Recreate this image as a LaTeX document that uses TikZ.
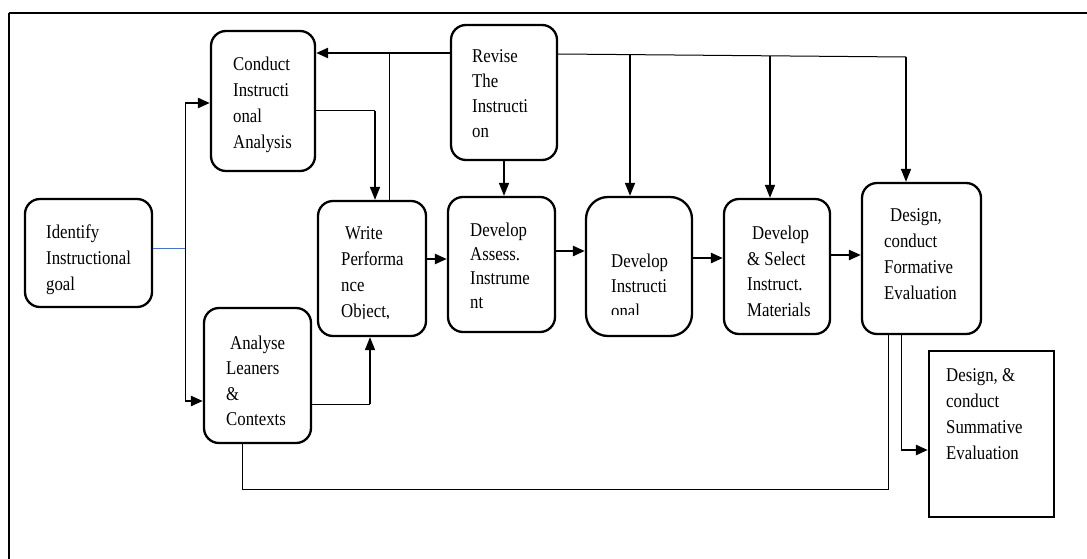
\documentclass[tikz,border=0pt]{standalone}
\usepackage{fontspec}
\setmainfont{Liberation Serif}[FakeStretch=0.86]
\usetikzlibrary{arrows.meta}
\definecolor{goalblue}{RGB}{68,114,196}
\begin{document}
\begin{tikzpicture}[x=1pt,y=-1pt,
  box/.style={draw, line width=2.3pt, rounded corners=15pt, inner sep=0pt},
  txt/.style={anchor=north west, inner sep=0pt, align=left, font=\fontsize{19.5}{#1}\selectfont},
  txt/.default=26,
  thinln/.style={line width=1pt},
  arr/.style={line width=2.5pt, -{Triangle[length=12pt,width=10pt]}},
  varr/.style={line width=1.6pt, -{Triangle[length=13pt,width=10pt]}}]

\useasboundingbox (0,0) rectangle (1087,559);

% frame
\draw[line width=2.5pt] (9,13) -- (1087,13);
\draw[line width=1.3pt] (9,13) -- (9,559);

% boxes
\node[box, minimum width=127pt, minimum height=108pt] (idg) at (88.5,253) {};
\node[box, minimum width=104pt, minimum height=140pt] (cia) at (263,101) {};
\node[box, minimum width=107pt, minimum height=135pt] (alc) at (257.5,375.5) {};
\node[box, minimum width=108pt, minimum height=135pt] (wpo) at (372,268.5) {};
\node[box, minimum width=106pt, minimum height=135pt] (rev) at (504,92.5) {};
\node[box, minimum width=107pt, minimum height=135pt] (dai) at (501.5,264.5) {};
\node[box, rounded corners=22pt, minimum width=106pt, minimum height=139pt] (dim) at (639,266.5) {};
\node[box, minimum width=106pt, minimum height=135pt] (dsm) at (777,266.5) {};
\node[box, minimum width=119pt, minimum height=151pt] (dfe) at (921.5,258.5) {};
\node[box, rounded corners=0pt, minimum width=125pt, minimum height=166pt] (dse) at (991.5,434) {};

% texts
\node[txt] (tidg) at (46,224.7) {Identify\\Instructional\\goal};
\node[txt] (tcia) at (233,56.7) {Conduct\\Instructi\\onal\\Analysis};
\node[txt=25] (trev) at (472,49.7) {Revise\\The\\Instructi\\on};
\begin{scope}
  \clip (330,210) rectangle (420,318);
  \node[txt] (twpo) at (341,226.7) {\hspace*{4pt}Write\\Performa\\nce\\Object,};
\end{scope}
\node[txt=24] (tdai) at (470,222.7) {Develop\\Assess.\\Instrume\\nt};
\begin{scope}
  \clip (600,240) rectangle (690,314);
  \node[txt=25] (tdim) at (611,253.7) {Develop\\Instructi\\onal};
\end{scope}
\node[txt=25.7] (tdsm) at (747,225.7) {\hspace*{5pt}Develop\\\&~Select\\Instruct.\\Materials};
\node[txt] (tdfe) at (884,208.7) {\hspace*{6pt}Design,\\conduct\\Formative\\Evaluation};
\node[txt=25.3] (talc) at (226,335.7) {\hspace*{4pt}Analyse\\Leaners\\\&\\Contexts};
\node[txt] (tdse) at (946,368.7) {Design, \&\\conduct\\Summative\\Evaluation};

% goal split
\coordinate (jtop) at (185,103);
\coordinate (jmid) at (185,248);
\coordinate (jbot) at (185,401);
\draw[line width=1pt, goalblue] (jmid -| idg.east) -- (jmid);
\draw[thinln] (jtop) -- (jbot);
\draw[arr] (jtop) -- (jtop -| cia.west);
\draw[arr] (jbot) -- (jbot -| alc.west);

% conduct -> write
\coordinate (c1) at (375,111);
\draw[thinln] (c1 -| cia.east) -- (c1);
\draw[varr] (c1) -- (c1 |- wpo.north);

% revise -> conduct
\coordinate (r1) at (451,53);
\draw[arr] (r1 -| rev.west) -- (r1 -| cia.east);
\coordinate (v1) at (389,53);
\draw[thinln] (v1) -- (v1 |- wpo.north);

% revise -> develop assess
\draw[varr] (rev.south) -- (rev.south |- dai.north);

% revise -> right branches
\coordinate (b0) at (557,54);
\coordinate (b1) at (630,55);
\coordinate (b2) at (770,56);
\coordinate (b3) at (906,57);
\draw[thinln] (b0 -| rev.east) -- (b3);
\draw[varr] (b1) -- (b1 |- dim.north);
\draw[varr] (b2) -- (b2 |- dsm.north);
\draw[varr] (b3) -- (b3 |- dfe.north);

% chain
\coordinate (h1) at (437,259);
\coordinate (h2) at (570,251);
\coordinate (h3) at (708,258);
\coordinate (h4) at (846,255);
\draw[arr] (h1 -| wpo.east) -- (h1 -| dai.west);
\draw[arr] (h2 -| dai.east) -- (h2 -| dim.west);
\draw[arr] (h3 -| dim.east) -- (h3 -| dsm.west);
\draw[arr] (h4 -| dsm.east) -- (h4 -| dfe.west);

% analyse -> write
\coordinate (a1) at (370,404);
\draw[thinln] (a1 -| alc.east) -- (a1);
\draw[varr] (a1) -- (a1 |- wpo.south);

% formative bottom
\coordinate (f1) at (888,489);
\coordinate (f2) at (901,450);
\coordinate (f3) at (242,489);
\draw[thinln] (f1 |- dfe.south) -- (f1) -- (f3) -- (f3 |- alc.south);
\draw[thinln] (f2 |- dfe.south) -- (f2);
\draw[arr] (f2) -- (f2 -| dse.west);
\end{tikzpicture}
\end{document}
